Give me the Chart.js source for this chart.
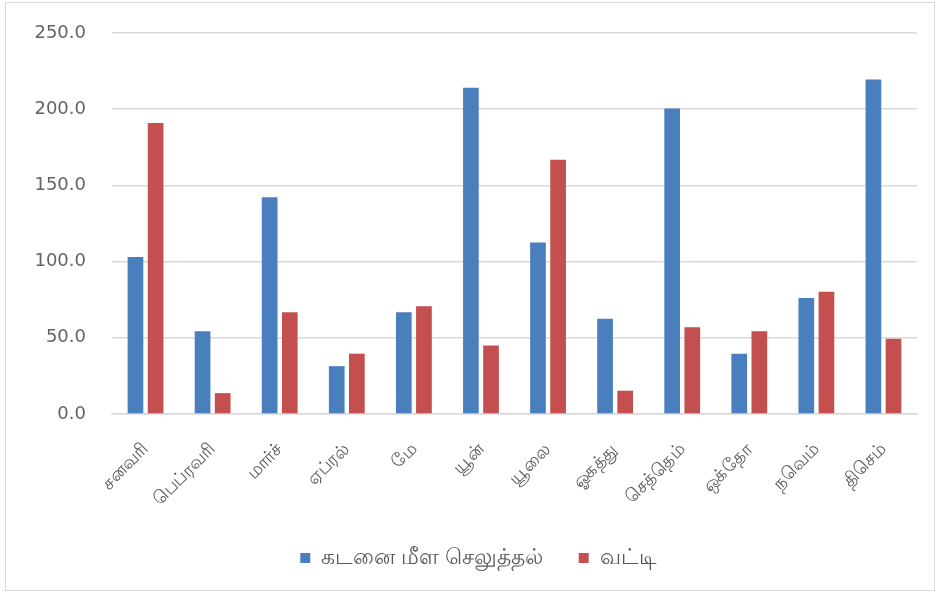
<!DOCTYPE html>
<html>
<head>
<meta charset="utf-8">
<script src="https://cdn.jsdelivr.net/npm/chart.js@4.4.1/dist/chart.umd.min.js"></script>
<style>
  html, body { margin: 0; padding: 0; background: #fff; }
  #wrap { width: 940px; height: 596px; }
</style>
</head>
<body>
<div id="wrap"><canvas id="chart" width="940" height="596"></canvas></div>
<script>
// Datos
const MESES = ['சனவரி', 'பெப்ரவரி', 'மார்ச்', 'ஏப்ரல்', 'மே', 'யூன்',
  'யூலை', 'ஓகத்து', 'செத்தெம்', 'ஒக்தோ', 'நவெம்', 'திசெம்'];
const CAPITAL = [103.1, 54.3, 142.2, 31.4, 66.7, 214.0, 112.6, 62.5, 200.5, 39.6, 76.1, 219.5];
const INTERES = [191.0, 13.7, 66.8, 39.6, 70.7, 45.0, 166.9, 15.3, 57.0, 54.3, 80.2, 49.3];
const SERIES = ['கடனை மீள செலுத்தல்', 'வட்டி'];
const Y_TICKS = [0, 50, 100, 150, 200, 250];

const COLOR = { capital: '#4a7fbe', interes: '#c3504e', grid: '#d9d9d9', text: '#595959' };
const FONT = "'Open Sans', 'Noto Sans', 'DejaVu Sans', sans-serif";

// Borde exterior del área del gráfico + leyenda corrida a la derecha como en el original
const borde = {
  id: 'borde',
  afterLayout(chart) {
    if (chart.legend) { chart.legend.left += 20; chart.legend.right += 20; }
  },
  beforeDraw(chart) {
    const c = chart.ctx;
    c.save();
    c.fillStyle = '#fff';
    c.fillRect(0, 0, chart.width, chart.height);
    c.strokeStyle = '#d9d9d9';
    c.lineWidth = 1;
    c.strokeRect(5.5, 2.5, 929, 588);
    c.restore();
  },
};

new Chart(document.getElementById('chart'), {
  type: 'bar',
  data: {
    labels: MESES,
    datasets: [
      { label: SERIES[0], data: CAPITAL, backgroundColor: COLOR.capital },
      { label: SERIES[1], data: INTERES, backgroundColor: COLOR.interes },
    ],
  },
  options: {
    responsive: false,
    animation: false,
    devicePixelRatio: 1,
    datasets: { bar: { categoryPercentage: 0.6, barPercentage: 0.78 } },
    layout: { padding: { top: 33, right: 23, bottom: 17, left: 0 } },
    scales: {
      y: {
        min: 0, max: 250,
        afterBuildTicks: (s) => { s.ticks = Y_TICKS.map((v) => ({ value: v })); },
        // ancho fijo y sin el relleno extra que suma ticks.padding arriba/abajo
        afterFit: (s) => { s.width = 112; s.paddingTop = 10; s.paddingBottom = 10; },
        border: { display: false },
        grid: { color: COLOR.grid, lineWidth: 1.5, drawTicks: false },
        ticks: {
          padding: 26, color: '#636363',
          font: { family: "'DejaVu Sans', sans-serif", size: 18 },
          callback: (v) => Number(v).toFixed(1),
        },
      },
      x: {
        afterFit: (s) => { s.height = 97; },
        border: { color: COLOR.grid, width: 1.5 },
        grid: { display: false },
        ticks: {
          minRotation: 45, maxRotation: 45, padding: 17,
          color: COLOR.text, font: { family: FONT, size: 18 },
        },
      },
    },
    plugins: {
      legend: {
        position: 'bottom',
        labels: {
          boxWidth: 10, boxHeight: 10, padding: 36,
          color: COLOR.text, font: { family: FONT, size: 22 },
        },
      },
      tooltip: { enabled: false },
    },
  },
  plugins: [borde],
});
</script>
</body>
</html>
